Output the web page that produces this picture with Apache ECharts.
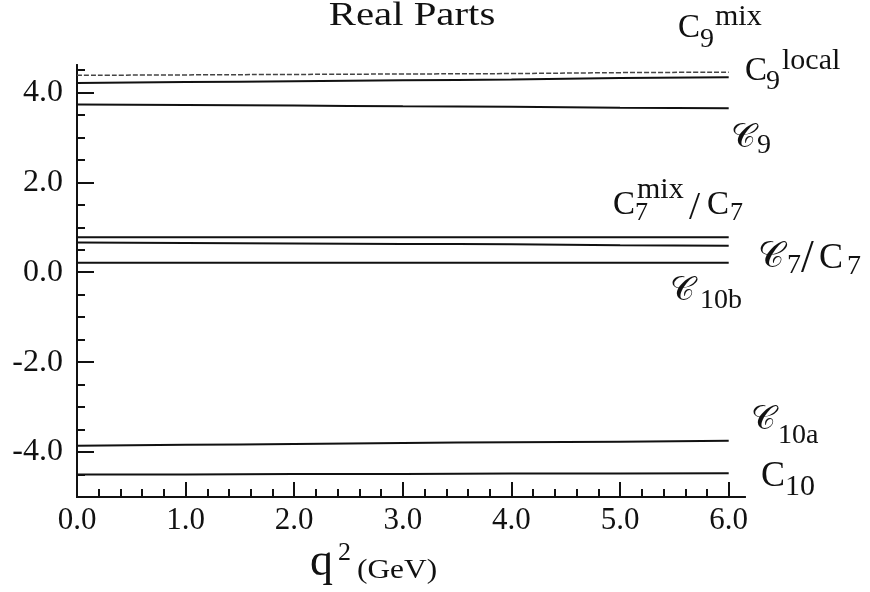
<!DOCTYPE html>
<html>
<head>
<meta charset="utf-8">
<script src="https://cdn.jsdelivr.net/npm/echarts@6/dist/echarts.min.js"></script>
<style>html,body{margin:0;padding:0;background:#fff;}#c{width:870px;height:592px;}</style>
</head>
<body>
<div id="c"></div>
<script>
// q^2 sample points (GeV)
var q2 = [0, 1, 2, 3, 4, 5, 6];
// Real parts of the Wilson coefficients
var c9mix   = [4.38, 4.39, 4.40, 4.41, 4.42, 4.44, 4.45];
var c9local = [4.21, 4.23, 4.25, 4.27, 4.29, 4.32, 4.34];
var c9eff   = [3.73, 3.72, 3.71, 3.69, 3.68, 3.66, 3.65];
var c7mix   = [0.78, 0.78, 0.78, 0.78, 0.78, 0.78, 0.78];
var c7eff   = [0.66, 0.65, 0.64, 0.63, 0.62, 0.60, 0.59];
var c10b    = [0.21, 0.21, 0.21, 0.21, 0.21, 0.21, 0.21];
var c10a    = [-3.86, -3.84, -3.82, -3.80, -3.78, -3.77, -3.75];
var c10     = [-4.50, -4.50, -4.49, -4.49, -4.48, -4.48, -4.47];
// tick values
var xMajor = [0, 1, 2, 3, 4, 5, 6];
var xMinor = [0.2,0.4,0.6,0.8,1.2,1.4,1.6,1.8,2.2,2.4,2.6,2.8,3.2,3.4,3.6,3.8,4.2,4.4,4.6,4.8,5.2,5.4,5.6,5.8];
var yMajor = [-4, -2, 0, 2, 4];
var yMinor = [-4.5,-3.5,-3,-2.5,-1.5,-1,-0.5,0.5,1,1.5,2.5,3,3.5,4.5];

var SERIF = "'Liberation Serif', 'Times New Roman', serif";
var SCRIPT = "'DejaVu Serif', 'DejaVu Sans', 'Noto Sans', serif";
var INK = '#111';

function pairs(ys) { return q2.map(function (x, i) { return [x, ys[i]]; }); }
function line(name, ys, dashed) {
  return {
    name: name, type: 'line', data: pairs(ys), symbol: 'none', smooth: true,
    xAxisIndex: 0, yAxisIndex: 0, silent: true,
    lineStyle: dashed ? { color: '#444', width: 1.5, type: [5, 2] } : { color: INK, width: 2 }
  };
}
function t(x, y, s, size, fam, align, sx) {
  return {
    type: 'text', x: x, y: y, silent: true, scaleX: sx || 1,
    style: { text: s, fontSize: size, fontFamily: fam || SERIF, fill: INK,
      textAlign: align || 'left', textVerticalAlign: 'middle', align: align || 'left', verticalAlign: 'middle' }
  };
}

var chart = echarts.init(document.getElementById('c'), null, { renderer: 'canvas' });
var axLine = { show: true, onZero: false, lineStyle: { color: INK, width: 2 } };
chart.setOption({
  animation: false,
  backgroundColor: '#fff',
  grid: { left: 77, right: 125, top: 65, bottom: 95, containLabel: false },
  xAxis: [
    { type: 'value', min: 0, max: 6.15, position: 'bottom', axisLine: axLine, splitLine: { show: false },
      axisTick: { show: true, inside: true, length: 15, lineStyle: { color: INK, width: 2 }, customValues: xMajor },
      axisLabel: { show: true, customValues: xMajor, margin: 8, fontSize: 31, fontFamily: SERIF, color: INK,
        formatter: function (v) { return v.toFixed(1); } } },
    { type: 'value', min: 0, max: 6.15, position: 'bottom', axisLine: axLine, splitLine: { show: false },
      axisTick: { show: true, inside: true, length: 8, lineStyle: { color: INK, width: 2 }, customValues: xMinor },
      axisLabel: { show: false } }
  ],
  yAxis: [
    { type: 'value', min: -5, max: 4.61, position: 'left', axisLine: axLine, splitLine: { show: false },
      axisTick: { show: true, inside: true, length: 17, lineStyle: { color: INK, width: 2 }, customValues: yMajor },
      axisLabel: { show: true, customValues: yMajor, margin: 14, fontSize: 32, fontFamily: SERIF, color: INK,
        formatter: function (v) { return v.toFixed(1); } } },
    { type: 'value', min: -5, max: 4.61, position: 'left', axisLine: axLine, splitLine: { show: false },
      axisTick: { show: true, inside: true, length: 8, lineStyle: { color: INK, width: 2 }, customValues: yMinor },
      axisLabel: { show: false } }
  ],
  series: [
    line('C9 mix', c9mix, true),
    line('C9 local', c9local),
    line('C9 eff', c9eff),
    line('C7 mix / C7', c7mix),
    line('C7 eff / C7', c7eff),
    line('C10b', c10b),
    line('C10a', c10a),
    line('C10', c10)
  ],
  graphic: [
    t(412, 16, 'Real Parts', 34, SERIF, 'center', 1.2),
    // C9^mix
    t(678, 28, 'C', 33), t(700, 40, '9', 28), t(715, 17, 'mix', 30),
    // C9^local
    t(745, 71, 'C', 33), t(766, 82, '9', 28), t(782, 61, 'local', 30),
    // script C9
    t(731, 138, '\u{1D49E}', 34, SCRIPT), t(757, 146, '9', 28),
    // C7^mix / C7
    t(613, 205, 'C', 33), t(635, 213, '7', 26), t(637, 190, 'mix', 30), t(689, 208, '/', 40), t(707, 205, 'C', 33), t(730, 213, '7', 26),
    // script C7 / C7
    t(758, 258, '\u{1D49E}', 36, SCRIPT), t(787, 266, '7', 28), t(801, 260, '/', 46), t(819, 259, 'C', 36), t(847, 267, '7', 28),
    // script C10b
    t(670, 291, '\u{1D49E}', 34, SCRIPT), t(700, 301, '10b', 28),
    // script C10a
    t(751, 420, '\u{1D49E}', 34, SCRIPT), t(778, 436, '10a', 28),
    // C10
    t(761, 477, 'C', 36), t(785, 487, '10', 30),
    // axis name q^2 (GeV)
    t(310, 563, 'q', 46), t(338, 553, '2', 26), t(357, 571, '(GeV)', 28, SERIF, 'left', 1.12)
  ]
});
</script>
</body>
</html>
